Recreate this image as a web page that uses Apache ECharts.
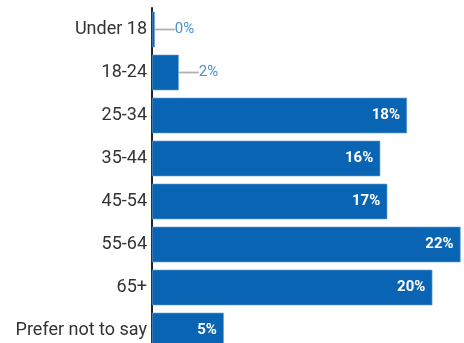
<!DOCTYPE html>
<html>
<head>
<meta charset="utf-8">
<script src="https://cdn.jsdelivr.net/npm/echarts@6/dist/echarts.min.js"></script>
<style>
	html, body { margin: 0; padding: 0; background: #fff; overflow: hidden; }
	/* 图表比窗口高一点，最后一根柱子被裁掉 */
	#age { width: 464px; height: 352px; }
</style>
</head>
<body>
<div id="age"></div>
<script>
// 年龄段
var ageGroups = [ 'Under 18', '18-24', '25-34', '35-44', '45-54', '55-64', '65+', 'Prefer not to say' ];
// 占比 (%)
var agePercent = [ 0.2, 1.9, 18.1, 16.2, 16.7, 21.9, 19.9, 5.1 ];
// 小于这个值的标签放在柱子外面
var outsideLimit = 3;

function ageEcharts() {
	var ageChart = echarts.init(document.getElementById('age'));
	var barData = [];
	for (var i = 0; i < agePercent.length; i++) {
		if (agePercent[i] < outsideLimit) {
			barData.push({
				value : agePercent[i],
				label : {
					position : 'right',
					color : '#4a8fd6',
					fontWeight : 'normal',
					fontSize : 15,
					distance : 2
				},
				labelLine : {
					show : true,
					lineStyle : {
						color : '#b0b0b0',
						width : 1.8
					}
				}
			});
		} else {
			barData.push(agePercent[i]);
		}
	}
	var optionAge = {
		animation : false,
		grid : {
			left : 152,
			top : 8,
			right : 2,
			bottom : 0
		},
		xAxis : {
			type : 'value',
			min : 0,
			max : 22,
			show : false
		},
		yAxis : {
			type : 'category',
			inverse : true,
			data : ageGroups,
			axisLine : {
				lineStyle : {
					color : '#222',
					width : 2
				}
			},
			axisTick : {
				show : false
			},
			axisLabel : {
				color : '#333',
				fontSize : 18,
				fontFamily : 'Roboto',
				margin : 5
			}
		},
		series : [ {
			type : 'bar',
			data : barData,
			barCategoryGap : '17%',
			itemStyle : {
				color : '#0a64b4',
				borderColor : '#6fa6dc',
				borderWidth : 0.6
			},
			label : {
				show : true,
				position : 'insideRight',
				distance : 7,
				color : '#fff',
				fontWeight : 'bold',
				fontSize : 15,
				fontFamily : 'Roboto',
				formatter : function(p) {
					return Math.round(p.value) + '%';
				}
			},
			labelLayout : function(p) {
				if (agePercent[p.dataIndex] < outsideLimit) {
					return {
						dx : 18
					};
				}
				return {};
			}
		} ]
	};
	ageChart.setOption(optionAge);
}

ageEcharts();
</script>
</body>
</html>
